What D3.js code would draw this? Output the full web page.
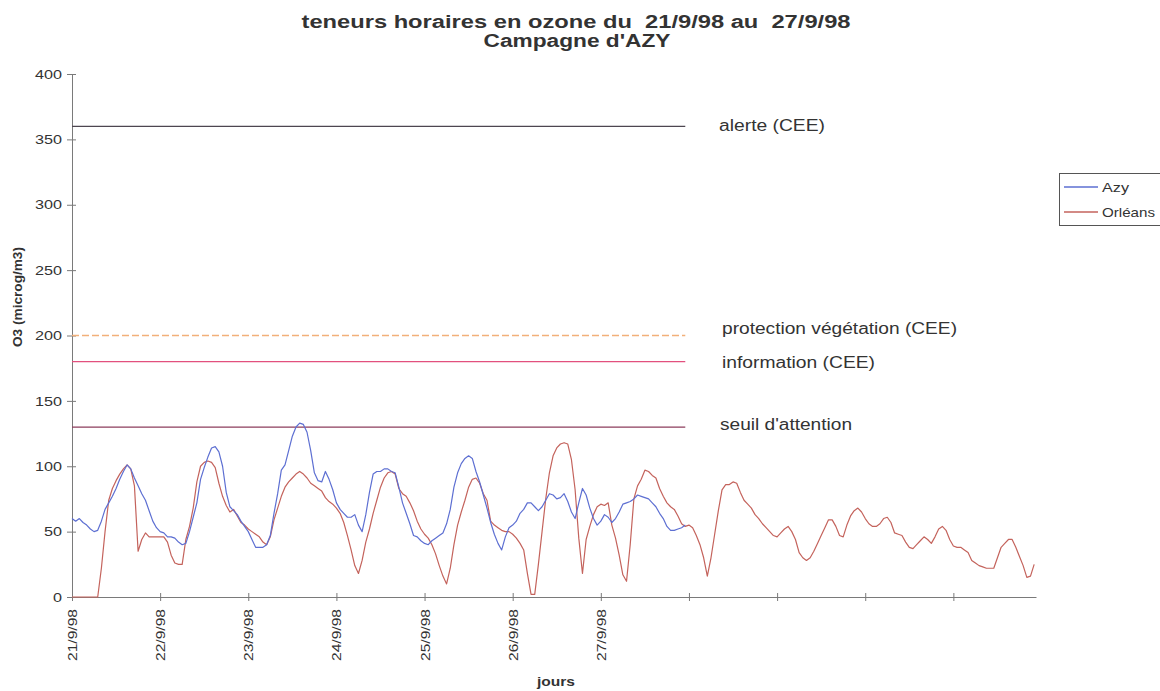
<!DOCTYPE html>
<html>
<head>
<meta charset="utf-8">
<script src="https://cdn.jsdelivr.net/npm/d3@7"></script>
<style>
  html, body { margin: 0; padding: 0; background: #fff; }
  svg { display: block; font-family: "Liberation Sans", Arial, sans-serif; }
</style>
</head>
<body>
<svg id="chart" width="1160" height="691"></svg>
<script>
// ---- Data ----
const dateLabels = ["21/9/98", "22/9/98", "23/9/98", "24/9/98", "25/9/98", "26/9/98", "27/9/98"];
const yTicks = [0, 50, 100, 150, 200, 250, 300, 350, 400];

// hourly O3 (microg/m3), Azy station
const azy = [
  60, 58, 60, 57, 55, 52, 50, 51, 58, 67, 72, 77, 83, 90, 96, 101, 98, 91, 85, 79, 74, 66, 58, 53,
  50, 49, 46, 46, 45, 42, 40, 41, 50, 61, 72, 90, 99, 107, 114, 115, 111, 100, 80, 69, 66, 63, 58, 54,
  50, 44, 38, 38, 38, 40, 47, 64, 79, 97, 101, 112, 123, 130, 133, 132, 126, 112, 95, 89, 88, 96, 90, 82,
  72, 67, 64, 61, 61, 63, 55, 50, 63, 80, 94, 96, 96, 98, 98, 96, 95, 84, 72, 64, 56, 47, 46, 43,
  41, 40, 43, 45, 47, 49, 56, 67, 84, 95, 102, 106, 108, 106, 96, 88, 78, 68, 57, 48, 41, 36, 46, 53,
  55, 58, 64, 67, 72, 72, 69, 66, 69, 74, 79, 78, 75, 76, 79, 73, 65, 60, 72, 83, 78, 68, 60, 55,
  58, 63, 61, 57, 60, 65, 71, 72, 73, 75, 78, 77, 76, 75, 72, 69, 64, 60, 54, 51, 51, 52, 53, 55
];

// hourly O3 (microg/m3), Orléans station
const orleans = [
  0, 0, 0, 0, 0, 0, 0, 0, 22, 50, 74, 83, 89, 94, 98, 101, 98, 85, 35, 44, 49, 46, 46, 46,
  46, 46, 42, 32, 26, 25, 25, 44, 54, 68, 88, 100, 103, 104, 103, 99, 87, 77, 70, 65, 67, 62, 57, 55,
  52, 50, 48, 46, 42, 40, 46, 59, 68, 77, 84, 88, 91, 94, 96, 94, 91, 87, 85, 83, 81, 76, 73, 71,
  68, 64, 57, 47, 36, 24, 18, 28, 42, 52, 64, 74, 84, 91, 95, 96, 94, 83, 79, 77, 72, 66, 58, 52,
  48, 45, 40, 33, 24, 16, 10, 22, 40, 55, 65, 74, 84, 90, 91, 87, 79, 74, 58, 55, 53, 51, 50, 50,
  48, 45, 41, 36, 18, 2, 2, 25, 50, 75, 95, 108, 114, 117, 118, 117, 105, 82, 45, 18, 44, 54, 63, 69,
  71, 70, 72, 55, 45, 32, 17, 12, 40, 75, 85, 90, 97, 96, 93, 91, 83, 77, 72, 69, 67, 62, 56, 54,
  55, 53, 47, 40, 30, 16, 30, 48, 66, 82, 86, 86, 88, 87, 80, 74, 71, 68, 63, 60, 56, 53, 50, 47,
  46, 49, 52, 54, 50, 44, 34, 30, 28, 30, 35, 41, 47, 53, 59, 59, 54, 47, 46, 55, 62, 66, 68, 65,
  60, 56, 54, 54, 56, 60, 61, 57, 49, 48, 47, 42, 38, 37, 40, 43, 46, 44, 41, 46, 52, 54, 51, 44,
  39, 38, 38, 36, 34, 28, 26, 24, 23, 22, 22, 22, 30, 38, 41, 44, 44, 38, 31, 24, 15, 16, 25
];

// reference thresholds
const thresholdLabels = ["alerte (CEE)", "protection végétation (CEE)", "information (CEE)", "seuil d'attention"];
const thresholdValues = [360, 200, 180, 130];
const thresholdHours = [0, 167];

const seriesNames = ["Azy", "Orléans"];

// ---- Drawing ----
const svg = d3.select("#chart");
const x = d3.scaleLinear().domain([0, 262.5]).range([72, 1036]);
const y = d3.scaleLinear().domain([0, 400]).range([597, 74]);

const seriesColors = ["#5d6fd2", "#c4635c"];
const thresholdColors = ["#4d4650", "#f2b07a", "#e2507e", "#8c3c5c"];
const thresholdDash = [null, "7,3", null, null];
const axisColor = "#7a7a7a";
const textColor = "#333";

// Title
svg.append("text").attr("x", 576).attr("y", 28).attr("text-anchor", "middle")
  .attr("font-size", 18).attr("font-weight", "bold").attr("fill", textColor)
  .attr("xml:space", "preserve")
  .attr("textLength", 549).attr("lengthAdjust", "spacingAndGlyphs")
  .text("teneurs horaires en ozone du  21/9/98 au  27/9/98");
svg.append("text").attr("x", 577).attr("y", 47).attr("text-anchor", "middle")
  .attr("font-size", 18).attr("font-weight", "bold").attr("fill", textColor)
  .attr("textLength", 187).attr("lengthAdjust", "spacingAndGlyphs")
  .text("Campagne d'AZY");

// Y axis
const gy = svg.append("g").attr("transform", "translate(72,0)")
  .call(d3.axisLeft(y).tickValues(yTicks).tickSize(5).tickPadding(5));
gy.select(".domain").attr("stroke", axisColor);
gy.selectAll(".tick line").attr("stroke", axisColor).attr("x1", 4).attr("x2", -5);
gy.selectAll(".tick text").attr("font-size", 13).attr("fill", textColor)
  .attr("font-family", "Liberation Sans, Arial, sans-serif")
  .attr("textLength", d => String(d).length * 9).attr("lengthAdjust", "spacingAndGlyphs");

// X axis
const xTickVals = d3.range(0, 262, 24);
const gx = svg.append("g").attr("transform", "translate(0,597)")
  .call(d3.axisBottom(x).tickValues(xTickVals).tickSize(4).tickSizeOuter(0)
    .tickFormat((d, i) => dateLabels[i] || ""));
gx.select(".domain").attr("stroke", axisColor);
gx.selectAll(".tick line").attr("stroke", axisColor).attr("y1", -4).attr("y2", 4);
gx.selectAll(".tick text")
  .attr("font-size", 13).attr("fill", textColor)
  .attr("font-family", "Liberation Sans, Arial, sans-serif")
  .attr("text-anchor", "end")
  .attr("transform", "rotate(-90)")
  .attr("x", -12).attr("y", 0).attr("dy", "0.35em")
  .attr("textLength", (d, i) => dateLabels[i] ? 52 : null)
  .attr("lengthAdjust", "spacingAndGlyphs");

// Axis titles
svg.append("text").attr("transform", "translate(22,297) rotate(-90)")
  .attr("text-anchor", "middle").attr("font-size", 12).attr("font-weight", "bold")
  .attr("fill", textColor)
  .attr("textLength", 100).attr("lengthAdjust", "spacingAndGlyphs")
  .text("O3 (microg/m3)");
svg.append("text").attr("x", 556).attr("y", 686).attr("text-anchor", "middle")
  .attr("font-size", 13).attr("font-weight", "bold").attr("fill", textColor)
  .attr("textLength", 38).attr("lengthAdjust", "spacingAndGlyphs")
  .text("jours");

// Threshold lines
const thrY = [125, 328, 362, 424];
const thrX = [719, 722, 722, 720];
const thrW = [106, 235, 153, 132];
thresholdValues.forEach((v, k) => {
  const line = d3.line().x(d => x(d)).y(() => y(v));
  svg.append("path").datum(thresholdHours).attr("d", line)
    .attr("fill", "none").attr("stroke", thresholdColors[k]).attr("stroke-width", 1.3)
    .attr("stroke-dasharray", thresholdDash[k]);
  svg.append("text").attr("x", thrX[k]).attr("y", thrY[k])
    .attr("dy", "0.35em").attr("font-size", 16).attr("fill", textColor)
    .attr("textLength", thrW[k]).attr("lengthAdjust", "spacingAndGlyphs")
    .text(thresholdLabels[k]);
});

// Series lines
const line = d3.line().x((d, i) => x(i)).y(d => y(d));
svg.append("path").datum(orleans).attr("d", line).attr("fill", "none")
  .attr("stroke", seriesColors[1]).attr("stroke-width", 1.2).attr("stroke-linejoin", "round");
svg.append("path").datum(azy).attr("d", line).attr("fill", "none")
  .attr("stroke", seriesColors[0]).attr("stroke-width", 1.2).attr("stroke-linejoin", "round");

// Legend
const lg = svg.append("g");
lg.append("rect").attr("x", 1059.5).attr("y", 173.5).attr("width", 110).attr("height", 52)
  .attr("fill", "#fff").attr("stroke", "#555").attr("stroke-width", 1);
const legW = [27, 53];
seriesNames.forEach((n, k) => {
  const yy = 187 + k * 25;
  lg.append("line").attr("x1", 1064).attr("x2", 1098).attr("y1", yy).attr("y2", yy)
    .attr("stroke", seriesColors[k]).attr("stroke-width", 1.3);
  lg.append("text").attr("x", 1102).attr("y", yy).attr("dy", "0.35em")
    .attr("font-size", 13).attr("fill", textColor)
    .attr("textLength", legW[k]).attr("lengthAdjust", "spacingAndGlyphs")
    .text(n);
});
</script>
</body>
</html>
